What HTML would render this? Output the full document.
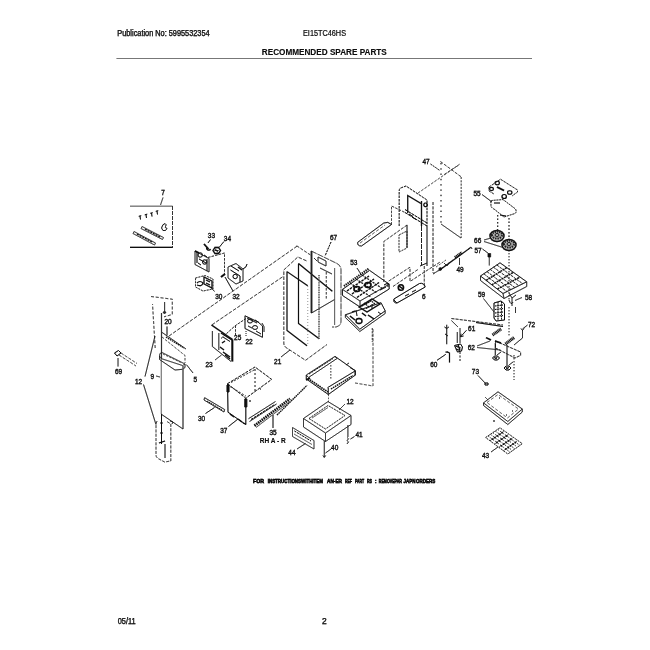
<!DOCTYPE html>
<html><head><meta charset="utf-8">
<style>
html,body{margin:0;padding:0;background:#fff;width:650px;height:650px;overflow:hidden}
svg{position:absolute;left:0;top:0;will-change:transform}
text{font-family:"Liberation Sans",sans-serif;fill:#111}
</style></head><body>
<svg width="650" height="650" viewBox="0 0 650 650">
<defs><filter id="ink" x="0" y="0" width="650" height="650" filterUnits="userSpaceOnUse"><feComponentTransfer><feFuncA type="gamma" amplitude="1" exponent="0.75" offset="0"/></feComponentTransfer></filter></defs>
<g fill="none" stroke-linecap="butt" filter="url(#ink)">
<text x="117.3" y="35.8" font-size="8.4" stroke="#111" stroke-width="0.25" textLength="92.3" lengthAdjust="spacingAndGlyphs">Publication No: 5995532354</text>
<text x="303" y="35.8" font-size="8.4" stroke="#111" stroke-width="0.1" textLength="43" lengthAdjust="spacingAndGlyphs">EI15TC46HS</text>
<text x="261.8" y="55.3" font-size="9" font-weight="bold" textLength="125" lengthAdjust="spacingAndGlyphs">RECOMMENDED SPARE PARTS</text>
<line x1="116.5" y1="58.5" x2="532" y2="58.5" stroke="#777" stroke-width="1"/>
<text x="117.7" y="624.3" font-size="8.4" stroke="#111" stroke-width="0.25" textLength="18" lengthAdjust="spacingAndGlyphs">05/11</text>
<text x="322" y="624.3" font-size="8.4" stroke="#111" stroke-width="0.25">2</text>
<text x="253" y="483" font-size="6.2" font-weight="bold" stroke="#000" stroke-width="0.5" textLength="11" lengthAdjust="spacingAndGlyphs">FOR</text>
<text x="267.7" y="483" font-size="6.2" font-weight="bold" stroke="#000" stroke-width="0.5" textLength="55.3" lengthAdjust="spacingAndGlyphs">INSTRUCTIONSWITHITEM</text>
<text x="327" y="483" font-size="6.2" font-weight="bold" stroke="#000" stroke-width="0.5" textLength="15" lengthAdjust="spacingAndGlyphs">AN-ER</text>
<text x="345" y="483" font-size="6.2" font-weight="bold" stroke="#000" stroke-width="0.5" textLength="7" lengthAdjust="spacingAndGlyphs">REF</text>
<text x="355" y="483" font-size="6.2" font-weight="bold" stroke="#000" stroke-width="0.5" textLength="9" lengthAdjust="spacingAndGlyphs">PART</text>
<text x="367" y="483" font-size="6.2" font-weight="bold" stroke="#000" stroke-width="0.5" textLength="5" lengthAdjust="spacingAndGlyphs">RS</text>
<text x="375" y="483" font-size="6.2" font-weight="bold" stroke="#000" stroke-width="0.5" textLength="1.5" lengthAdjust="spacingAndGlyphs">:</text>
<text x="378.8" y="483" font-size="6.2" font-weight="bold" stroke="#000" stroke-width="0.5" textLength="23.2" lengthAdjust="spacingAndGlyphs">REMOVEPAR</text>
<text x="403.5" y="483" font-size="6.2" font-weight="bold" stroke="#000" stroke-width="0.5" textLength="11.9" lengthAdjust="spacingAndGlyphs">JAPN</text>
<text x="416" y="483" font-size="6.2" font-weight="bold" stroke="#000" stroke-width="0.5" textLength="19.4" lengthAdjust="spacingAndGlyphs">ORDERS</text>

<line x1="130" y1="206.2" x2="172.5" y2="206.2" stroke="#444" stroke-width="0.8"/>
<line x1="172.5" y1="206" x2="172.5" y2="247.5" stroke="#111" stroke-width="0.8" stroke-dasharray="4 1"/>
<line x1="130" y1="247.4" x2="172.8" y2="247.4" stroke="#111" stroke-width="1.1"/>
<text x="161.20" y="194.80" font-size="7.8" stroke="#111" stroke-width="0.3" textLength="3.6" lengthAdjust="spacingAndGlyphs">7</text>
<line x1="163" y1="197.5" x2="160.5" y2="205" stroke="#111" stroke-width="0.7"/>
<path d="M140,216 l0.5,3.5 M138.8,216.3 l2.4,-0.6" stroke="#111" stroke-width="1" fill="none"/>
<path d="M146,214.5 l0.5,3.5 M144.8,214.8 l2.4,-0.6" stroke="#111" stroke-width="1" fill="none"/>
<path d="M151.5,213 l0.5,3.5 M150.3,213.3 l2.4,-0.6" stroke="#111" stroke-width="1" fill="none"/>
<path d="M157,211 l0.5,3.5 M155.8,211.3 l2.4,-0.6" stroke="#111" stroke-width="1" fill="none"/>
<path d="M142,226.5 L163.5,237.5 L162.5,239.5 L141,228.5 Z" stroke="#111" stroke-width="0.7" fill="none"/>
<path d="M134,231.5 L155.5,243 L154.5,245 L133,233.5 Z" stroke="#111" stroke-width="0.7" fill="none"/>
<path d="M145,229 L161,237.5 M137,234 L153,242.5" stroke="#111" stroke-width="1.2" fill="none" stroke-dasharray="2 1"/>
<path d="M161.5,228 q1,-4 3.5,-4.5 q2,1 0.5,3 q-1,1 1.5,2 q-1,3 -4,2 z" stroke="#111" stroke-width="0.9" fill="none"/>
<text x="207.80" y="238.20" font-size="7.8" stroke="#111" stroke-width="0.3" textLength="7.2" lengthAdjust="spacingAndGlyphs">33</text>
<text x="223.80" y="241.30" font-size="7.8" stroke="#111" stroke-width="0.3" textLength="7.2" lengthAdjust="spacingAndGlyphs">34</text>
<line x1="210.5" y1="239.5" x2="208" y2="243" stroke="#111" stroke-width="0.9"/>
<path d="M204,244 L208.5,249" stroke="#111" stroke-width="1.6" fill="none"/>
<path d="M207,247.5 a2,1.6 0 1,0 3.5,1.5" stroke="#111" stroke-width="1.3" fill="none"/>
<line x1="224" y1="241.5" x2="219" y2="247.5" stroke="#111" stroke-width="0.9"/>
<path d="M213,250.5 l2,-3 l3.5,0 l2,3 l-2,3 l-3.5,0 z" stroke="#111" stroke-width="1.3" fill="none"/>
<path d="M214.5,250.5 l4,0 M215,248.5 l3,4" stroke="#111" stroke-width="0.9" fill="none"/>
<path d="M195,251 L209,258.5 L209,272 L195,264.5 Z" stroke="#111" stroke-width="0.8" fill="none"/>
<path d="M197,252 L197,263 M198,255 a2.2,2.2 0 1,0 4.4,0 a2.2,2.2 0 1,0 -4.4,0 M202.5,262 a2.2,2.2 0 1,0 4.4,0 a2.2,2.2 0 1,0 -4.4,0 M198,263 l3,2 M204,255 l3,2 M199,259 l7,4" stroke="#111" stroke-width="1" fill="none"/>
<line x1="195" y1="251" x2="199" y2="253" stroke="#111" stroke-width="1.5"/>
<line x1="207" y1="259" x2="207" y2="271" stroke="#111" stroke-width="0.9"/>
<path d="M208,257.5 L224.5,253 L224.5,275" stroke="#111" stroke-width="0.8" fill="none" stroke-dasharray="2.5 1.2"/>
<path d="M221,277 L225,274" stroke="#111" stroke-width="1.8" fill="none"/>
<path d="M195.5,278 L205,275.5 L213,279 L213,289 L203,291 L195.5,287 Z" stroke="#111" stroke-width="0.8" fill="none" stroke-dasharray="2 1"/>
<path d="M204,277 L212,281 L212,288 L204,284 Z" stroke="#111" stroke-width="1.2" fill="none"/>
<path d="M197,283 q3,-3 6,0 q-1,4 -6,2 M206,280 l4,2 M206,283 l4,2" stroke="#111" stroke-width="1.1" fill="none"/>
<path d="M228,267 L236,263.5 L243,269 L243,281 L236,284 L228,278 Z" stroke="#111" stroke-width="0.8" fill="none"/>
<path d="M230.5,270 L240,276 L240,282 M233,276.5 a2.2,2.2 0 1,0 4.4,0 a2.2,2.2 0 1,0 -4.4,0 M243,269 q4,-2 4,-5 M231,266 l8,5" stroke="#111" stroke-width="1" fill="none"/>
<line x1="238" y1="267" x2="242" y2="270" stroke="#111" stroke-width="1.3"/>
<text x="215.20" y="299.10" font-size="7.8" stroke="#111" stroke-width="0.3" textLength="7.2" lengthAdjust="spacingAndGlyphs">30</text>
<text x="232.40" y="298.80" font-size="7.8" stroke="#111" stroke-width="0.3" textLength="7.2" lengthAdjust="spacingAndGlyphs">32</text>
<line x1="214.5" y1="291.5" x2="211" y2="287.5" stroke="#111" stroke-width="0.8"/>
<line x1="233" y1="291" x2="225" y2="277" stroke="#111" stroke-width="0.9"/>
<line x1="169" y1="336" x2="297" y2="246.2" stroke="#111" stroke-width="0.7" stroke-dasharray="3.5 1.6"/>
<line x1="212" y1="324.8" x2="283.8" y2="276" stroke="#111" stroke-width="0.7" stroke-dasharray="3.5 1.6"/>
<path d="M211.5,325 L232.5,339.5" stroke="#111" stroke-width="1.5" fill="none"/>
<line x1="232.3" y1="339.5" x2="232.3" y2="361.5" stroke="#111" stroke-width="1.9"/>
<path d="M212.4,331 L212.4,346.5 L231,361.5 M218.8,333 L218.8,350" stroke="#111" stroke-width="0.8" fill="none"/>
<path d="M221,333 L232,340 M220,347 l4,3 M223,352 l7,5 M225,355 l5,4 M222,343 l3,-2" stroke="#111" stroke-width="1.1" fill="none"/>
<path d="M223,337 l7,4.5" stroke="#111" stroke-width="0.9" fill="none"/>
<path d="M221,338.5 L235.5,325.5 L246,318.5 M235.5,325.5 L235.5,336" stroke="#111" stroke-width="0.8" fill="none" stroke-dasharray="2.5 1.2"/>
<path d="M245,315.8 L258,322 L262.5,326 L262.5,337.3 L245,328.5 Z" stroke="#111" stroke-width="0.9" fill="none"/>
<path d="M247,318 l10,5 M247.5,321 a2.5,2 0 1,0 5,0 a2.5,2 0 1,0 -5,0 M252.5,327.5 a2.5,2 0 1,0 5,0 a2.5,2 0 1,0 -5,0 M248,326 l4,2 M255,320 l4,2.5 M256,331 l5,3" stroke="#111" stroke-width="0.9" fill="none"/>
<path d="M262,323 q3,3 2,9" stroke="#111" stroke-width="0.8" fill="none"/>
<path d="M246,331 l0,5" stroke="#111" stroke-width="0.8" fill="none" stroke-dasharray="1 1"/>
<text x="205.40" y="366.60" font-size="7.8" stroke="#111" stroke-width="0.3" textLength="7.2" lengthAdjust="spacingAndGlyphs">23</text>
<text x="234.10" y="339.80" font-size="7.8" stroke="#111" stroke-width="0.3" textLength="7.2" lengthAdjust="spacingAndGlyphs">25</text>
<text x="245.40" y="344.30" font-size="7.8" stroke="#111" stroke-width="0.3" textLength="7.2" lengthAdjust="spacingAndGlyphs">22</text>
<line x1="215" y1="360" x2="221.5" y2="355" stroke="#111" stroke-width="0.7"/>
<line x1="296.7" y1="245.8" x2="310.5" y2="255" stroke="#111" stroke-width="0.7" stroke-dasharray="3 1.5"/>
<path d="M306.4,260.8 L297.8,257 L283.8,270 L283.8,343 Q283.8,346 286,347.5 L305.5,360.3 L327,344.5" stroke="#111" stroke-width="0.7" fill="none" stroke-dasharray="3.5 1.5"/>
<path d="M287,271.6 L307.7,285.8 M287,271.6 L287,330.4 L307,345.8" stroke="#111" stroke-width="1.1" fill="none"/>
<line x1="307.7" y1="286" x2="307.7" y2="345" stroke="#777" stroke-width="0.6" stroke-dasharray="1 2"/>
<path d="M298.5,263.5 L332.3,291.2 M298.5,263.5 L298.5,323.5 L319.2,338.8" stroke="#111" stroke-width="1.1" fill="none"/>
<line x1="319" y1="275" x2="319" y2="339" stroke="#555" stroke-width="1.5" stroke-dasharray="1 0.7"/>
<path d="M311.2,251 L337,263.5 Q341,265.5 341,270 L341,321 Q341,326 336,327 L332,327" stroke="#333" stroke-width="0.8" fill="none" stroke-dasharray="6 1"/>
<line x1="311.5" y1="251" x2="311.5" y2="313" stroke="#222" stroke-width="1.7"/>
<path d="M311.5,313 L334.6,299.5" stroke="#111" stroke-width="0.8" fill="none"/>
<line x1="334.6" y1="268" x2="334.6" y2="325" stroke="#444" stroke-width="0.8"/>
<line x1="326.3" y1="272" x2="326.3" y2="300" stroke="#111" stroke-width="0.7" stroke-dasharray="2.5 1.5"/>
<path d="M318,257 L326,261 L326,266 L318,262 Z M314,258 l3,3 M320,268 L332,274" stroke="#111" stroke-width="0.8" fill="none"/>
<text x="329.90" y="240.00" font-size="7.8" stroke="#111" stroke-width="0.3" textLength="7.2" lengthAdjust="spacingAndGlyphs">67</text>
<line x1="331" y1="242" x2="325" y2="256" stroke="#111" stroke-width="1" stroke-dasharray="2 1"/>
<text x="274.10" y="363.60" font-size="7.8" stroke="#111" stroke-width="0.3" textLength="7.2" lengthAdjust="spacingAndGlyphs">21</text>
<line x1="281" y1="357" x2="290" y2="350" stroke="#111" stroke-width="0.8"/>
<path d="M399.2,226 L399.2,191 Q399.2,188 402,187.5 L406,186 L427,200 L427,226" stroke="#111" stroke-width="0.9" fill="none" stroke-dasharray="2.5 1"/>
<path d="M407.7,213 L407.7,195.5 L421,203.5" stroke="#111" stroke-width="1.2" fill="none"/>
<path d="M405,209.5 L427,223 M405,212.5 L427,226" stroke="#111" stroke-width="1" fill="none" stroke-dasharray="3 0.8"/>
<path d="M421.5,201 L421.5,226 M425.5,203 a1.8,1.8 0 1,0 0.1,0" stroke="#111" stroke-width="1.2" fill="none"/>
<line x1="421.5" y1="226" x2="421.5" y2="265.4" stroke="#111" stroke-width="0.9" stroke-dasharray="5 1"/>
<line x1="427" y1="226" x2="427" y2="266" stroke="#111" stroke-width="0.9"/>
<path d="M420,266 L427,263" stroke="#111" stroke-width="0.9" fill="none"/>
<line x1="407" y1="225" x2="407" y2="247.7" stroke="#111" stroke-width="0.9"/>
<path d="M409,214 l4,2.5 M412,217 l4,2.5" stroke="#111" stroke-width="1" fill="none"/>
<line x1="433" y1="202" x2="433" y2="273" stroke="#111" stroke-width="0.8" stroke-dasharray="3 1.4"/>
<path d="M391.5,224.6 L391.5,206 L404.6,212.3" stroke="#111" stroke-width="0.7" fill="none" stroke-dasharray="2.5 1.3"/>
<path d="M383.8,282 L383.8,241.5 L407.7,224.6" stroke="#111" stroke-width="0.7" fill="none" stroke-dasharray="3 1.4"/>
<path d="M399,235 L407,231 L407,248 L399,252 Z" stroke="#111" stroke-width="0.7" fill="none" stroke-dasharray="2 1"/>
<path d="M357.7,242.3 L383.8,223 Q388,221 391.5,224.5 L361.5,246 Q357,246 357.7,242.3 Z" stroke="#111" stroke-width="0.9" fill="none"/>
<path d="M360,243 L385,225" stroke="#111" stroke-width="0.5" fill="none" stroke-dasharray="3 2"/>
<line x1="441" y1="163" x2="441" y2="224" stroke="#111" stroke-width="1" stroke-dasharray="1.3 4"/>
<line x1="440.4" y1="161.5" x2="461.4" y2="177" stroke="#111" stroke-width="0.7" stroke-dasharray="3 1.5"/>
<line x1="461.2" y1="177" x2="461.2" y2="238" stroke="#111" stroke-width="0.7" stroke-dasharray="2 1.3"/>
<line x1="441" y1="224" x2="461" y2="238" stroke="#111" stroke-width="0.7"/>
<path d="M444.2,174.6 L458.8,165" stroke="#111" stroke-width="0.6" fill="none" stroke-dasharray="3 1.5"/>
<line x1="418" y1="193" x2="460" y2="164" stroke="#111" stroke-width="0.6" stroke-dasharray="2.5 1.5"/>
<text x="422.40" y="164.30" font-size="7.8" stroke="#111" stroke-width="0.3" textLength="7.2" lengthAdjust="spacingAndGlyphs">47</text>
<line x1="430.5" y1="164" x2="440" y2="170.6" stroke="#111" stroke-width="0.8" stroke-dasharray="2 0.8"/>
<path d="M439.7,270 L470.2,247.9" stroke="#111" stroke-width="1.1" fill="none"/>
<path d="M439,269 a1.3,1.3 0 1,0 2.6,0 a1.3,1.3 0 1,0 -2.6,0" stroke="#111" stroke-width="0.8" fill="#111"/>
<path d="M455,257.5 L462,252.5" stroke="#111" stroke-width="2.8" fill="none" stroke-dasharray="1 0.7"/>
<path d="M444,263 l3,3 l2,-3 M447,266 l0,0 M468,249.5 l3,-2.5 l1,2" stroke="#111" stroke-width="0.8" fill="none"/>
<path d="M436,267 L446,260" stroke="#111" stroke-width="0.6" fill="none" stroke-dasharray="2 1.5"/>
<text x="456.40" y="272.40" font-size="7.8" stroke="#111" stroke-width="0.3" textLength="7.2" lengthAdjust="spacingAndGlyphs">49</text>
<line x1="459.5" y1="265" x2="459.5" y2="258" stroke="#111" stroke-width="0.8"/>
<line x1="433.4" y1="274" x2="453" y2="260" stroke="#111" stroke-width="0.6" stroke-dasharray="3 1.5"/>
<path d="M489,187 L500.5,179.2 L517.5,190 L517.5,192 L512,196 M489,187 L489,191 L494,194" stroke="#111" stroke-width="0.8" fill="none" stroke-dasharray="2.5 1"/>
<path d="M495,183 a2.2,1.8 0 1,0 4.4,0 a2.2,1.8 0 1,0 -4.4,0 M507.5,192.5 a2.2,1.8 0 1,0 4.4,0 a2.2,1.8 0 1,0 -4.4,0 M489.5,189 a2,1.6 0 1,0 4,0 a2,1.6 0 1,0 -4,0" stroke="#111" stroke-width="1.1" fill="none"/>
<path d="M497,187 L504,190.5" stroke="#111" stroke-width="1.6" fill="none"/>
<path d="M490.8,201 L491,206 Q491.5,208 494,209 L504,217 L515,213.5 Q517,212 515.5,209 L503,199.5 L492,200.5 Z" stroke="#111" stroke-width="0.8" fill="none" stroke-dasharray="2 0.8"/>
<path d="M502,196.5 a2.2,2 0 1,0 4.4,0 a2.2,2 0 1,0 -4.4,0" stroke="#111" stroke-width="1.2" fill="none"/>
<path d="M494,203 l6,0 M500,215 l6,1" stroke="#111" stroke-width="1" fill="none"/>
<text x="473.40" y="195.80" font-size="7.8" stroke="#111" stroke-width="0.3" textLength="7.2" lengthAdjust="spacingAndGlyphs">55</text>
<line x1="482" y1="194.5" x2="492" y2="202" stroke="#111" stroke-width="0.8"/>
<line x1="497.7" y1="215" x2="497.7" y2="232" stroke="#111" stroke-width="1" stroke-dasharray="1.5 2"/>
<line x1="509" y1="218" x2="509" y2="240" stroke="#111" stroke-width="1" stroke-dasharray="1.5 2"/>
<path d="M490,236 a7,5.5 0 1,0 14,0 a7,5.5 0 1,0 -14,0" stroke="#111" stroke-width="1.4" fill="#bbb"/>
<path d="M492,235 a5,3.5 0 1,0 10,0 a5,3.5 0 1,0 -10,0" stroke="#222" stroke-width="2.2" fill="none" stroke-dasharray="1.5 0.8"/>
<path d="M495,235 a2,1.5 0 1,0 4,0 a2,1.5 0 1,0 -4,0" stroke="#111" stroke-width="1" fill="none"/>
<path d="M502,245 a7,5.5 0 1,0 14,0 a7,5.5 0 1,0 -14,0" stroke="#111" stroke-width="1.4" fill="#bbb"/>
<path d="M504,244 a5,3.5 0 1,0 10,0 a5,3.5 0 1,0 -10,0" stroke="#222" stroke-width="2.2" fill="none" stroke-dasharray="1.5 0.8"/>
<path d="M507,244 a2,1.5 0 1,0 4,0 a2,1.5 0 1,0 -4,0" stroke="#111" stroke-width="1" fill="none"/>
<text x="474.10" y="242.80" font-size="7.8" stroke="#111" stroke-width="0.3" textLength="7.2" lengthAdjust="spacingAndGlyphs">66</text>
<line x1="484" y1="240" x2="491" y2="238" stroke="#111" stroke-width="0.7"/>
<line x1="484" y1="241.5" x2="503" y2="247.5" stroke="#111" stroke-width="0.7"/>
<text x="474.40" y="252.50" font-size="7.8" stroke="#111" stroke-width="0.3" textLength="7.2" lengthAdjust="spacingAndGlyphs">57</text>
<line x1="482.5" y1="249" x2="488.5" y2="253.5" stroke="#111" stroke-width="0.8"/>
<line x1="489.3" y1="257" x2="489.3" y2="265.5" stroke="#111" stroke-width="0.7"/>
<path d="M488,253.5 l2.6,0 l0,3.5 l-2.6,0z" stroke="#111" stroke-width="0.6" fill="#111"/>
<path d="M480.5,276 L500,262.8 L526.7,281.8 L503,293.5 Z" stroke="#111" stroke-width="0.9" fill="none"/>
<path d="M480.5,276 L480.5,280.5 L504,298.5 L526.7,286.5 L526.7,281.8 M503,293.5 L504,298.5" stroke="#111" stroke-width="0.8" fill="none"/>
<line x1="483.8" y1="273.8" x2="506.9" y2="291.6" stroke="#111" stroke-width="0.8" stroke-dasharray="2.5 1"/>
<line x1="487.0" y1="271.6" x2="510.9" y2="289.6" stroke="#111" stroke-width="0.8" stroke-dasharray="2.5 1"/>
<line x1="490.2" y1="269.4" x2="514.9" y2="287.6" stroke="#111" stroke-width="0.8" stroke-dasharray="2.5 1"/>
<line x1="493.5" y1="267.2" x2="518.8" y2="285.7" stroke="#111" stroke-width="0.8" stroke-dasharray="2.5 1"/>
<line x1="496.8" y1="265.0" x2="522.8" y2="283.8" stroke="#111" stroke-width="0.8" stroke-dasharray="2.5 1"/>
<line x1="486.1" y1="280.4" x2="506.7" y2="267.6" stroke="#111" stroke-width="1.3" stroke-dasharray="2 0.8"/>
<line x1="491.8" y1="284.8" x2="513.4" y2="272.3" stroke="#111" stroke-width="1.3" stroke-dasharray="2 0.8"/>
<line x1="497.4" y1="289.1" x2="520.0" y2="277.1" stroke="#111" stroke-width="1.3" stroke-dasharray="2 0.8"/>
<text x="524.90" y="299.80" font-size="7.8" stroke="#111" stroke-width="0.3" textLength="7.2" lengthAdjust="spacingAndGlyphs">58</text>
<line x1="522" y1="297.5" x2="515" y2="300.5" stroke="#111" stroke-width="0.7"/>
<path d="M509,293 l3,5 l4,-3 M512,298 l0,8 M509,300 q2,6 4,2 M515.5,307 l0,6" stroke="#111" stroke-width="0.8" fill="none"/>
<text x="477.90" y="296.60" font-size="7.8" stroke="#111" stroke-width="0.3" textLength="7.2" lengthAdjust="spacingAndGlyphs">59</text>
<line x1="483.5" y1="298.5" x2="494" y2="312" stroke="#111" stroke-width="0.7"/>
<path d="M494,303 L501,301 L504.5,304 L504.5,320 L496,321 L494,318 Z" stroke="#111" stroke-width="1" fill="none"/>
<path d="M495,306 l8,-1 M495,309.5 l8,-1 M495,313 l8,-1 M495,316.5 l8,-1 M498,302 l0,18 M501.5,302 l0,18" stroke="#111" stroke-width="1" fill="none" stroke-dasharray="1.5 0.8"/>
<line x1="509" y1="250" x2="509" y2="300" stroke="#111" stroke-width="0.8" stroke-dasharray="1.3 1.7"/>
<line x1="509" y1="307" x2="509" y2="337" stroke="#111" stroke-width="0.8" stroke-dasharray="1.3 1.7"/>
<text x="527.90" y="326.80" font-size="7.8" stroke="#111" stroke-width="0.3" textLength="7.2" lengthAdjust="spacingAndGlyphs">72</text>
<line x1="527.5" y1="325" x2="522.5" y2="329" stroke="#111" stroke-width="0.8"/>
<path d="M522.5,330 L522.5,338 L514,345" stroke="#111" stroke-width="0.8" fill="none"/>
<path d="M521,328.5 l1.5,2 l1.5,-2" stroke="#111" stroke-width="0.8" fill="none"/>
<line x1="451.4" y1="318.5" x2="503" y2="325" stroke="#111" stroke-width="0.8" stroke-dasharray="3 1.2"/>
<line x1="451.4" y1="320.5" x2="458" y2="327" stroke="#111" stroke-width="0.7"/>
<line x1="476" y1="322.5" x2="503" y2="326.5" stroke="#111" stroke-width="1.1"/>
<text x="468.10" y="331.40" font-size="7.8" stroke="#111" stroke-width="0.3" textLength="7.2" lengthAdjust="spacingAndGlyphs">61</text>
<path d="M466.5,330.3 L460.5,336.8 M460.5,336.8 l0.5,-3 M460.5,336.8 l3,-0.8" stroke="#111" stroke-width="0.9" fill="none"/>
<path d="M446.7,324.8 L446.7,344.2 M444.5,327 l2.2,1.5 l2.2,-1.5 M445,334 l3,2" stroke="#111" stroke-width="0.9" fill="none"/>
<path d="M454.5,345.5 l6,-1.5 l2,3 l-1,4 l-4,1 z" stroke="#111" stroke-width="1" fill="none"/>
<path d="M455.5,346 l5,2 M456,349 l4,1.5 M458,344.5 l2,6" stroke="#111" stroke-width="1.1" fill="none"/>
<path d="M460,328 L460,343 M457.3,332 L457.3,343" stroke="#111" stroke-width="0.8" fill="none"/>
<line x1="460" y1="352" x2="460" y2="361" stroke="#111" stroke-width="0.8" stroke-dasharray="2 1.5"/>
<text x="467.70" y="349.80" font-size="7.8" stroke="#111" stroke-width="0.3" textLength="7.2" lengthAdjust="spacingAndGlyphs">62</text>
<line x1="477" y1="346" x2="490" y2="341" stroke="#111" stroke-width="0.7"/>
<line x1="477" y1="347.5" x2="500.5" y2="350" stroke="#111" stroke-width="0.7"/>
<path d="M492.6,335 L501,329" stroke="#111" stroke-width="3" fill="none" stroke-dasharray="1 0.6"/>
<path d="M505.5,344 L514,337.6" stroke="#111" stroke-width="3" fill="none" stroke-dasharray="1 0.6"/>
<path d="M486,337.6 L491,340 M495,341 L501,343" stroke="#111" stroke-width="1.4" fill="none"/>
<path d="M495.5,341 L520.6,352 L520.6,355.4 L515,358 L495.5,348 Z" stroke="#111" stroke-width="0.8" fill="none" stroke-dasharray="3 1"/>
<path d="M495.3,343 L495.3,355 M507,345 L507,365" stroke="#111" stroke-width="0.9" fill="none"/>
<path d="M492.5,358 l2,-2 l3,0 l2,2 l-2,2 l-3,0 z M504,368 l2,-2 l3,0 l2,2 l-2,2 l-3,0 z" stroke="#111" stroke-width="1" fill="none"/>
<path d="M494,357 l3,2 M505.5,367 l3,2 M494.5,359 l3,-2 M506,369 l3,-2" stroke="#111" stroke-width="0.9" fill="none"/>
<path d="M497,355 l4,-3 M509,365 l4,-3" stroke="#111" stroke-width="0.8" fill="none"/>
<line x1="514" y1="355" x2="514" y2="380" stroke="#111" stroke-width="0.8" stroke-dasharray="1.3 1.7"/>
<text x="430.20" y="367.40" font-size="7.8" stroke="#111" stroke-width="0.3" textLength="7.2" lengthAdjust="spacingAndGlyphs">60</text>
<line x1="437" y1="360.3" x2="445.8" y2="354.3" stroke="#111" stroke-width="0.9"/>
<path d="M446.7,351.5 L449.5,353 L449.5,362.6 M445.5,352 l3,0.5" stroke="#111" stroke-width="1.1" fill="none"/>
<text x="471.80" y="373.80" font-size="7.8" stroke="#111" stroke-width="0.3" textLength="7.2" lengthAdjust="spacingAndGlyphs">73</text>
<line x1="478" y1="375.5" x2="485.5" y2="383.5" stroke="#111" stroke-width="0.8"/>
<path d="M485,383 l3,0 l0,2 l-3,0 z" stroke="#111" stroke-width="1" fill="none"/>
<path d="M483.5,402.9 L498,391.8 L522.3,409 L507.8,421.5 Z" stroke="#111" stroke-width="0.8" fill="none"/>
<path d="M483.5,402.9 L483.5,405.5 L507.8,424.5 L522.3,412 L522.3,409" stroke="#111" stroke-width="0.8" fill="none"/>
<path d="M487,402.5 L498,394.5 L518.5,409 L507.5,418 Z" stroke="#111" stroke-width="0.5" fill="none" stroke-dasharray="3 2"/>
<path d="M494,420 l0,2 M499,398 l1,0 M512,411 l1,0 M506,415 l1,0" stroke="#111" stroke-width="1" fill="none"/>
<path d="M485,397 l3,3" stroke="#111" stroke-width="0.6" fill="none"/>
<path d="M485.6,437.5 L500,427.8 L522.3,443.7 L507.8,454 Z" stroke="#111" stroke-width="0.8" fill="none" stroke-dasharray="2 1"/>
<line x1="488.0" y1="435.9" x2="510.2" y2="452.3" stroke="#111" stroke-width="0.7" stroke-dasharray="1.5 1.5"/>
<line x1="490.4" y1="434.3" x2="512.6" y2="450.6" stroke="#111" stroke-width="0.7" stroke-dasharray="1.5 1.5"/>
<line x1="492.8" y1="432.6" x2="515.0" y2="448.9" stroke="#111" stroke-width="0.7" stroke-dasharray="1.5 1.5"/>
<line x1="495.2" y1="431.0" x2="517.5" y2="447.1" stroke="#111" stroke-width="0.7" stroke-dasharray="1.5 1.5"/>
<line x1="497.6" y1="429.4" x2="519.9" y2="445.4" stroke="#111" stroke-width="0.7" stroke-dasharray="1.5 1.5"/>
<line x1="490.0" y1="440.8" x2="504.5" y2="431.0" stroke="#111" stroke-width="0.7" stroke-dasharray="1.5 1.5"/>
<line x1="494.5" y1="444.1" x2="508.9" y2="434.2" stroke="#111" stroke-width="0.7" stroke-dasharray="1.5 1.5"/>
<line x1="498.9" y1="447.4" x2="513.4" y2="437.3" stroke="#111" stroke-width="0.7" stroke-dasharray="1.5 1.5"/>
<line x1="503.4" y1="450.7" x2="517.8" y2="440.5" stroke="#111" stroke-width="0.7" stroke-dasharray="1.5 1.5"/>
<circle cx="492.4" cy="439.2" r="0.9" fill="#111"/>
<circle cx="496.9" cy="442.5" r="0.9" fill="#111"/>
<circle cx="501.3" cy="445.8" r="0.9" fill="#111"/>
<circle cx="505.8" cy="449.1" r="0.9" fill="#111"/>
<circle cx="494.8" cy="437.6" r="0.9" fill="#111"/>
<circle cx="499.3" cy="440.9" r="0.9" fill="#111"/>
<circle cx="503.7" cy="444.2" r="0.9" fill="#111"/>
<circle cx="508.2" cy="447.5" r="0.9" fill="#111"/>
<circle cx="497.2" cy="435.9" r="0.9" fill="#111"/>
<circle cx="501.7" cy="439.2" r="0.9" fill="#111"/>
<circle cx="506.1" cy="442.5" r="0.9" fill="#111"/>
<circle cx="510.6" cy="445.8" r="0.9" fill="#111"/>
<circle cx="499.6" cy="434.3" r="0.9" fill="#111"/>
<circle cx="504.1" cy="437.6" r="0.9" fill="#111"/>
<circle cx="508.5" cy="440.9" r="0.9" fill="#111"/>
<circle cx="513.0" cy="444.2" r="0.9" fill="#111"/>
<circle cx="502.0" cy="432.7" r="0.9" fill="#111"/>
<circle cx="506.5" cy="436.0" r="0.9" fill="#111"/>
<circle cx="510.9" cy="439.3" r="0.9" fill="#111"/>
<circle cx="515.4" cy="442.6" r="0.9" fill="#111"/>
<text x="482.00" y="458.30" font-size="7.8" stroke="#111" stroke-width="0.3" textLength="7.2" lengthAdjust="spacingAndGlyphs">43</text>
<line x1="491" y1="452" x2="498" y2="447" stroke="#111" stroke-width="0.8"/>
<path d="M155.2,348 L152.5,304 M151,296.5 L172.3,299.2 L172.3,314.5 L164,316.8" stroke="#111" stroke-width="0.7" fill="none" stroke-dasharray="3 1.8"/>
<line x1="161.5" y1="313" x2="161.5" y2="358" stroke="#333" stroke-width="1.1"/>
<line x1="161.3" y1="358" x2="161.3" y2="414" stroke="#555" stroke-width="0.8"/>
<line x1="164.6" y1="302" x2="164.6" y2="313" stroke="#111" stroke-width="0.8"/>
<path d="M163,312 l3,0 l-1.5,2 z" stroke="#111" stroke-width="0.8" fill="none"/>
<text x="164.40" y="324.20" font-size="7" stroke="#111" stroke-width="0.3" textLength="7.2" lengthAdjust="spacingAndGlyphs">20</text>
<line x1="167" y1="326.5" x2="167" y2="335" stroke="#111" stroke-width="0.9"/>
<path d="M162,332.4 L186,349" stroke="#111" stroke-width="0.8" fill="none"/>
<path d="M166,337 L184,348" stroke="#111" stroke-width="1.1" fill="none" stroke-dasharray="1.5 0.8"/>
<path d="M159.5,356 Q159,353 162,352.5 L185,364 L182.5,365.5 L161,358.5 Z" stroke="#111" stroke-width="0.7" fill="none"/>
<path d="M159.5,356 L159.5,359.5 L175,370 L182.5,369.3 L185,367.5 L185,364" stroke="#111" stroke-width="0.8" fill="none"/>
<path d="M163,354 L181,362.5" stroke="#111" stroke-width="0.6" fill="none" stroke-dasharray="2 1.5"/>
<path d="M162,337 L185,355.5 L185,363" stroke="#111" stroke-width="0.6" fill="none" stroke-dasharray="2.5 1.5"/>
<line x1="183" y1="366" x2="183" y2="429" stroke="#555" stroke-width="1.4"/>
<line x1="161" y1="414" x2="183" y2="429" stroke="#111" stroke-width="0.8"/>
<path d="M170,421 l3,1 l-1,2" stroke="#111" stroke-width="0.8" fill="none"/>
<text x="193.60" y="381.80" font-size="7.8" stroke="#111" stroke-width="0.3" textLength="3.6" lengthAdjust="spacingAndGlyphs">5</text>
<line x1="186.5" y1="364.7" x2="193" y2="373" stroke="#111" stroke-width="0.8"/>
<text x="150.50" y="378.80" font-size="7.8" stroke="#111" stroke-width="0.3" textLength="3.6" lengthAdjust="spacingAndGlyphs">9</text>
<line x1="156" y1="376" x2="160" y2="377" stroke="#111" stroke-width="0.7"/>
<text x="134.90" y="383.60" font-size="7.8" stroke="#111" stroke-width="0.3" textLength="7.2" lengthAdjust="spacingAndGlyphs">12</text>
<line x1="145" y1="376.5" x2="155" y2="336" stroke="#111" stroke-width="0.8"/>
<line x1="143.5" y1="384.5" x2="156" y2="424.6" stroke="#111" stroke-width="0.8"/>
<path d="M114.5,353 L118.5,350.5 L121,353 L117,356 Z" stroke="#111" stroke-width="1" fill="none"/>
<path d="M119,355 L136,366 M121,353 L137,363.5" stroke="#111" stroke-width="0.6" fill="none" stroke-dasharray="3 1.5"/>
<text x="114.90" y="373.60" font-size="7.8" stroke="#111" stroke-width="0.3" textLength="7.2" lengthAdjust="spacingAndGlyphs">69</text>
<line x1="118" y1="358" x2="118" y2="366.5" stroke="#111" stroke-width="0.8"/>
<path d="M157,421 L156,424 L156,455 Q156,457 158,458.5 L164.6,462 L170.8,461 L170.8,424 L167,421.5" stroke="#111" stroke-width="0.7" fill="none" stroke-dasharray="3 1.3"/>
<line x1="161.5" y1="414" x2="161.5" y2="444" stroke="#111" stroke-width="1"/>
<line x1="165" y1="444" x2="165" y2="458" stroke="#111" stroke-width="0.9"/>
<path d="M160.5,423 l2,0 M160.5,433 l2,0 M159,443 l6,-2" stroke="#111" stroke-width="1.3" fill="none"/>
<path d="M227.5,383.7 L255,367 L271.7,379.4 L245.8,398.2 Z" stroke="#111" stroke-width="0.9" fill="none" stroke-dasharray="3 1.2"/>
<path d="M230,386.5 L245.8,396 M231,382.5 L255,369.5" stroke="#111" stroke-width="0.7" fill="none" stroke-dasharray="2 1.5"/>
<path d="M227.5,383.7 L228,412.2 L245.8,424.6 L245.8,398.2" stroke="#111" stroke-width="1" fill="none"/>
<line x1="255" y1="369" x2="255" y2="392" stroke="#111" stroke-width="0.8" stroke-dasharray="2 2"/>
<path d="M227,385 l2,0 l0,7 l-2,0 z M244.8,399 l2,0 l0,8 l-2,0 z" stroke="#111" stroke-width="0.9" fill="#111"/>
<path d="M230,414 l4,3 M238,419 l4,3 M243,423 l3,1" stroke="#111" stroke-width="1.2" fill="none"/>
<path d="M260,389 l1,0 M249,401 l2,0" stroke="#111" stroke-width="1" fill="none"/>
<path d="M248.5,418.7 L275.5,401.5 M249.5,421.5 L276.5,404" stroke="#111" stroke-width="0.8" fill="none"/>
<path d="M251,419.5 L274,405" stroke="#111" stroke-width="1" fill="none" stroke-dasharray="2.5 1"/>
<path d="M254.5,425.7 L290,398.8" stroke="#111" stroke-width="2.6" fill="none" stroke-dasharray="1.4 0.9"/>
<path d="M256,427.5 L290,401.5" stroke="#111" stroke-width="0.6" fill="none"/>
<line x1="277" y1="415" x2="307" y2="385.4" stroke="#111" stroke-width="1.2" stroke-dasharray="1.5 0.7"/>
<text x="269.40" y="435.10" font-size="7.8" stroke="#111" stroke-width="0.3" textLength="7.2" lengthAdjust="spacingAndGlyphs">35</text>
<line x1="273" y1="415" x2="273" y2="428" stroke="#111" stroke-width="0.9"/>
<text x="259.8" y="442.8" font-size="8" text-anchor="start" font-weight="bold" textLength="26" lengthAdjust="spacingAndGlyphs">RH A - R</text>
<text x="220.20" y="432.80" font-size="7.8" stroke="#111" stroke-width="0.3" textLength="7.2" lengthAdjust="spacingAndGlyphs">37</text>
<line x1="228.5" y1="426.5" x2="238" y2="419" stroke="#111" stroke-width="0.9"/>
<path d="M204.6,397.7 L224.6,409.5 L224,412 L204,400 Z" stroke="#111" stroke-width="0.8" fill="none"/>
<path d="M207,401 l15,9" stroke="#111" stroke-width="0.9" fill="none" stroke-dasharray="1.5 0.8"/>
<text x="197.90" y="420.50" font-size="7.8" stroke="#111" stroke-width="0.3" textLength="7.2" lengthAdjust="spacingAndGlyphs">30</text>
<line x1="205.5" y1="413.5" x2="214.5" y2="407.5" stroke="#111" stroke-width="0.9"/>
<path d="M306.3,375 L335,356.4 L337,358.5 L308.5,377.5 Z" stroke="#111" stroke-width="0.8" fill="none"/>
<path d="M309,374 L333,358.5" stroke="#111" stroke-width="0.9" fill="none" stroke-dasharray="2 1"/>
<path d="M335,356.4 L355.4,370.8" stroke="#111" stroke-width="0.9" fill="none"/>
<path d="M306.3,375 L306.3,379 L328.3,394.5 L355.4,375 L355.4,370.8" stroke="#111" stroke-width="0.9" fill="none"/>
<path d="M308,378.5 L328,392" stroke="#111" stroke-width="1.5" fill="none" stroke-dasharray="1.5 0.8"/>
<path d="M327.5,387.7 L355.4,370.8 M328.3,394.5 L328.3,388" stroke="#111" stroke-width="0.9" fill="none"/>
<path d="M331,389 L353,375.5" stroke="#111" stroke-width="1.3" fill="none" stroke-dasharray="1.5 0.8"/>
<path d="M350,367.5 l5,3 l0,5 M346,365 l3,-2" stroke="#111" stroke-width="0.8" fill="none"/>
<line x1="330.8" y1="365" x2="330.8" y2="380" stroke="#111" stroke-width="0.7" stroke-dasharray="1.5 1.5"/>
<path d="M306,380 L310,378" stroke="#111" stroke-width="1.5" fill="none"/>
<path d="M355,383 L373,386 L373,328" stroke="#111" stroke-width="0.6" fill="none" stroke-dasharray="3 1.5"/>
<path d="M303.5,418.5 L328,401.6 L351,415.5 L325.5,433 Z" stroke="#111" stroke-width="0.75" fill="none"/>
<path d="M303.5,418.5 L303.5,427 L325.5,441.5 L351,424.5 L351,415.5 M325.5,433 L325.5,441.5" stroke="#111" stroke-width="0.75" fill="none"/>
<path d="M309,418.5 L328,405.5 L345,415.5 L325.5,429 Z" stroke="#111" stroke-width="0.8" fill="none" stroke-dasharray="2 1"/>
<path d="M312,418 L328,407.5" stroke="#111" stroke-width="0.5" fill="none"/>
<line x1="328.5" y1="394.6" x2="328.5" y2="402" stroke="#111" stroke-width="0.6" stroke-dasharray="1.5 1.5"/>
<text x="346.40" y="403.60" font-size="7.8" stroke="#111" stroke-width="0.3" textLength="7.2" lengthAdjust="spacingAndGlyphs">12</text>
<line x1="345" y1="404" x2="339" y2="410" stroke="#111" stroke-width="0.7"/>
<text x="355.40" y="437.20" font-size="7.8" stroke="#111" stroke-width="0.3" textLength="7.2" lengthAdjust="spacingAndGlyphs">41</text>
<path d="M347.9,425 L347.9,437 M347,437.5 q3,1 0,3 q3,1 0,3.5 M350.5,439 l4,-2.5" stroke="#111" stroke-width="0.8" fill="none"/>
<text x="331.10" y="450.30" font-size="7.8" stroke="#111" stroke-width="0.3" textLength="7.2" lengthAdjust="spacingAndGlyphs">40</text>
<line x1="331" y1="449" x2="325.5" y2="453" stroke="#111" stroke-width="0.8"/>
<path d="M324.3,441 L324.3,457 M323,455.5 l1.3,2 l1.3,-2" stroke="#111" stroke-width="0.8" fill="none"/>
<path d="M292.5,427.5 L314,440.5 L314,449 L292.5,436.5 Z" stroke="#111" stroke-width="0.7" fill="none"/>
<path d="M294.5,431 L311,441" stroke="#111" stroke-width="1" fill="none" stroke-dasharray="2 1"/>
<path d="M294,434 L312,444.5" stroke="#111" stroke-width="0.5" fill="none"/>
<text x="288.30" y="455.10" font-size="7.8" stroke="#111" stroke-width="0.3" textLength="7.2" lengthAdjust="spacingAndGlyphs">44</text>
<line x1="297" y1="449" x2="305.5" y2="443.5" stroke="#111" stroke-width="0.8"/>
<path d="M342.5,289.4 L369.6,270.4 L389.2,284.2 L389.2,289 L360,307 L342.5,295.5 Z" stroke="#111" stroke-width="0.9" fill="none"/>
<path d="M342.5,289.4 L360,301 L389.2,284.2 M360,301 L360,307" stroke="#111" stroke-width="0.8" fill="none"/>
<path d="M344,286 L369,268.5" stroke="#111" stroke-width="2" fill="none" stroke-dasharray="1.2 1"/>
<path d="M347,291 L369,276 M352,294 L374,279 M357,297.5 L379,282.5" stroke="#111" stroke-width="1.2" fill="none" stroke-dasharray="2.5 1"/>
<path d="M350,283 L371,297 M356,279 L377,293 M362,275 L383,289" stroke="#111" stroke-width="1.1" fill="none" stroke-dasharray="2 1.2"/>
<path d="M354,289 a3,2.5 0 1,0 6,0 a3,2.5 0 1,0 -6,0 M365,285 a3,2.5 0 1,0 6,0 a3,2.5 0 1,0 -6,0" stroke="#111" stroke-width="1.6" fill="none"/>
<path d="M384,285 l4,-2 l0,4 M380,290 l6,-3" stroke="#111" stroke-width="1" fill="none"/>
<path d="M359,307 L372,299 L380,304 L367,312 Z" stroke="#111" stroke-width="1.2" fill="none"/>
<path d="M362,306 l9,-5 M366,308.5 l9,-5 M364,303 l5,4 M370,300 l5,4" stroke="#111" stroke-width="1.1" fill="none" stroke-dasharray="1.5 0.8"/>
<path d="M345.4,314.8 L381,302.7 L385.2,310.8 L359.8,329.2 Z" stroke="#111" stroke-width="0.9" fill="none"/>
<path d="M345.4,314.8 L345.4,317.5 L359.8,331.5 L385.2,313.5 L385.2,310.8" stroke="#111" stroke-width="0.8" fill="none"/>
<path d="M350,316 l5,4 M356,321 a3,2.5 0 1,0 6,0 a3,2.5 0 1,0 -6,0 M362,313 l4,3 M368,315 l6,4 M352,312 l3,-1" stroke="#111" stroke-width="1.3" fill="none"/>
<path d="M356,310 L357,316 M372,304 L372,309 M378,312 l3,2" stroke="#111" stroke-width="0.9" fill="none"/>
<text x="350.20" y="265.10" font-size="7.8" stroke="#111" stroke-width="0.3" textLength="7.2" lengthAdjust="spacingAndGlyphs">53</text>
<line x1="357" y1="268" x2="361.5" y2="275" stroke="#111" stroke-width="0.8"/>
<line x1="372.3" y1="328" x2="372.3" y2="342" stroke="#111" stroke-width="0.7" stroke-dasharray="2 1.3"/>
<path d="M393.9,299 L419.5,283.5 Q424,282.5 425.2,287 L397,303 Q393,303 393.9,299 Z" stroke="#111" stroke-width="1" fill="none"/>
<path d="M394,300 l3,3 M405,296 l4,-2 M412,292 l4,-2" stroke="#111" stroke-width="0.9" fill="none"/>
<path d="M398.3,287.5 a2.6,2.8 0 1,0 5.2,0 a2.6,2.8 0 1,0 -5.2,0 M399,286 l4,3" stroke="#111" stroke-width="1.5" fill="none"/>
<text x="422.10" y="299.00" font-size="7.8" stroke="#111" stroke-width="0.3" textLength="3.6" lengthAdjust="spacingAndGlyphs">6</text>
<path d="M388.8,281 L410,267.2 L410,281.5 L423.4,272.7 L441,261.5" stroke="#111" stroke-width="0.7" fill="none" stroke-dasharray="3 1.5"/>
<path d="M393,286.5 L417.9,269.5" stroke="#111" stroke-width="0.7" fill="none" stroke-dasharray="3 1.5"/>
<line x1="424.3" y1="266" x2="424.3" y2="287" stroke="#111" stroke-width="0.7" stroke-dasharray="3 1.2"/>
<path d="M433,273.6 L441,269.5" stroke="#111" stroke-width="0.7" fill="none" stroke-dasharray="2 1"/>
</g>
</svg>
</body></html>
